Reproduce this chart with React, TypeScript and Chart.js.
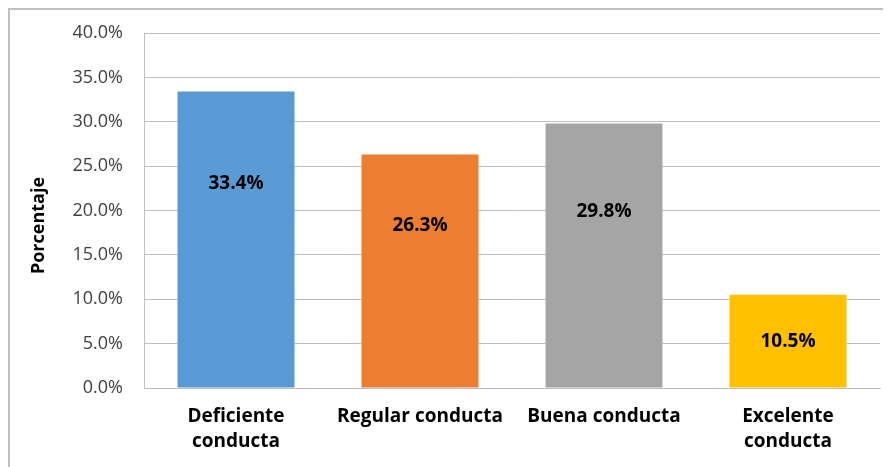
import React, { useEffect, useRef } from "react";
import { Chart, registerables } from "chart.js";

Chart.register(...registerables);

const categories: (string | string[])[] = [
  ["Deficiente", "conducta"],
  "Regular conducta",
  "Buena conducta",
  ["Excelente", "conducta"],
];
const values = [33.4, 26.3, 29.8, 10.5];
const labelPositions = [23.0, 18.25, 19.9, 5.2];
const barColors = ["#5B9BD5", "#ED7D31", "#A5A5A5", "#FFC000"];
const yTicks = [0, 5, 10, 15, 20, 25, 30, 35, 40];
const yTitle = "Porcentaje";

const FONT = "'Open Sans', sans-serif";

const overlay = {
  id: "overlay",
  afterDatasetsDraw(chart: any) {
    const ctx = chart.ctx;
    const x = chart.scales.x;
    const y = chart.scales.y;
    ctx.save();
    ctx.fillStyle = "#000";
    ctx.font = `bold 19px ${FONT}`;
    ctx.textAlign = "center";
    ctx.textBaseline = "middle";
    values.forEach((v, i) => {
      ctx.fillText(v.toFixed(1) + "%", x.getPixelForValue(i), y.getPixelForValue(labelPositions[i]));
    });
    ctx.translate(29, (y.top + y.bottom) / 2 + 15);
    ctx.rotate(-Math.PI / 2);
    ctx.font = `bold 18px ${FONT}`;
    ctx.fillText(yTitle, 0, 0);
    ctx.restore();
  },
};

export default function App() {
  const ref = useRef<HTMLCanvasElement>(null);
  useEffect(() => {
    if (!ref.current) return;
    const chart = new Chart(ref.current, {
      type: "bar",
      data: {
        labels: categories,
        datasets: [
          {
            data: values,
            backgroundColor: barColors,
            barPercentage: 0.636,
            categoryPercentage: 1,
          },
        ],
      },
      options: {
        animation: false,
        responsive: false,
        layout: { padding: { top: 23, right: 11, left: 0, bottom: 0 } },
        plugins: { legend: { display: false }, tooltip: { enabled: false } },
        scales: {
          x: {
            grid: { display: false, drawTicks: false, tickLength: 0 },
            border: { display: true, color: "#bfbfbf", width: 1 },
            ticks: {
              color: "#000",
              font: { family: FONT, size: 19, weight: "bold", lineHeight: 1.316 },
              padding: 16,
              maxRotation: 0,
              autoSkip: false,
            },
            afterFit: (s: any) => {
              s.height = 79;
              s.paddingLeft = 0;
              s.paddingRight = 0;
            },
          },
          y: {
            min: 0,
            max: 40,
            afterBuildTicks: (s: any) => {
              s.ticks = yTicks.map((v) => ({ value: v }));
            },
            grid: { color: "#bfbfbf", drawTicks: false, tickLength: 0 },
            border: { display: true, color: "#bfbfbf", width: 1 },
            ticks: {
              color: "#404040",
              font: { family: FONT, size: 18 },
              padding: 21,
              callback: (v: any) => Number(v).toFixed(1) + "%",
            },
            afterFit: (s: any) => {
              s.width = 134;
              s.paddingTop = 0;
              s.paddingBottom = 0;
            },
          },
        },
      },
      plugins: [overlay],
    });
    return () => chart.destroy();
  }, []);
  return (
    <div
      style={{
        width: 883,
        height: 459,
        borderTop: "2px solid #c0c0c0",
        borderLeft: "2px solid #c0c0c0",
        boxSizing: "border-box",
        overflow: "hidden",
      }}
    >
      <canvas ref={ref} width={881} height={457} style={{ display: "block" }} />
    </div>
  );
}
